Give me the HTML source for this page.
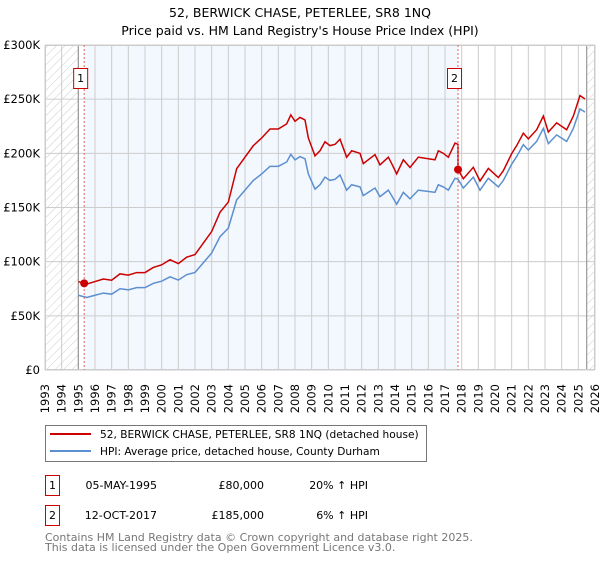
<!DOCTYPE html>
<html><head><meta charset="utf-8"><style>
body{margin:0;background:#fff;font-family:"DejaVu Sans","Liberation Sans",sans-serif;}
svg text{font-family:"DejaVu Sans","Liberation Sans",sans-serif;}
</style></head><body>
<svg id="chart" width="600" height="560" viewBox="0 0 600 560" xmlns="http://www.w3.org/2000/svg">
<defs><pattern id="hatch" patternUnits="userSpaceOnUse" width="6" height="6" patternTransform="rotate(45)"><line x1="0" y1="0" x2="0" y2="6" stroke="#ccc" stroke-width="1"/></pattern></defs>
<text x="300" y="17" text-anchor="middle" font-size="12.5">52, BERWICK CHASE, PETERLEE, SR8 1NQ</text>
<text x="300" y="35" text-anchor="middle" font-size="12.5">Price paid vs. HM Land Registry's House Price Index (HPI)</text>
<g id="plot"></g>
<rect x="45.5" y="425.5" width="381" height="36" fill="#fff" stroke="#777"/>
<line x1="50" y1="434" x2="91" y2="434" stroke="#cc0000" stroke-width="2"/>
<text x="100" y="438" font-size="10.6">52, BERWICK CHASE, PETERLEE, SR8 1NQ (detached house)</text>
<line x1="50" y1="451" x2="91" y2="451" stroke="#5b8fd0" stroke-width="2"/>
<text x="100" y="455" font-size="10.6">HPI: Average price, detached house, County Durham</text>
<g font-size="11">
<rect x="45.5" y="475.5" width="14" height="20" fill="#fff" stroke="#cc0000"/>
<text x="52.5" y="489" text-anchor="middle">1</text>
<text x="157" y="489" text-anchor="end">05-MAY-1995</text>
<text x="264" y="489" text-anchor="end">£80,000</text>
<text x="368" y="489" text-anchor="end">20% ↑ HPI</text>
</g>
<g font-size="11">
<rect x="45.5" y="505.5" width="14" height="20" fill="#fff" stroke="#cc0000"/>
<text x="52.5" y="519" text-anchor="middle">2</text>
<text x="157" y="519" text-anchor="end">12-OCT-2017</text>
<text x="264" y="519" text-anchor="end">£185,000</text>
<text x="368" y="519" text-anchor="end">6% ↑ HPI</text>
</g>
<text x="45" y="541" font-size="11" fill="#777">Contains HM Land Registry data © Crown copyright and database right 2025.</text>
<text x="45" y="551" font-size="11" fill="#777">This data is licensed under the Open Government Licence v3.0.</text>
</svg>
<script>
const hpiYears=[1995.0,1995.5,1996.0,1996.5,1997.0,1997.5,1998.0,1998.5,1999.0,1999.5,2000.0,2000.5,2001.0,2001.5,2002.0,2002.5,2003.0,2003.5,2004.0,2004.5,2005.0,2005.5,2006.0,2006.5,2007.0,2007.5,2007.75,2008.0,2008.3,2008.6,2008.8,2009.2,2009.5,2009.8,2010.1,2010.4,2010.7,2011.1,2011.4,2011.9,2012.1,2012.5,2012.8,2013.1,2013.6,2013.8,2014.1,2014.5,2014.9,2015.4,2015.9,2016.4,2016.6,2016.9,2017.2,2017.6,2017.78,2018.1,2018.7,2019.1,2019.6,2020.2,2020.5,2021.0,2021.3,2021.7,2022.0,2022.5,2022.9,2023.2,2023.7,2024.3,2024.7,2025.1,2025.4];
const hpiValues=[69,67,69,71,70,75,74,76,76,80,82,86,83,88,90,99,108,123,131,157,166,175,181,188,188,192,199,194,197,195,181,167,171,178,175,176,180,166,171,169,161,165,168,160,166,161,153,164,158,166,165,164,171,169,166,177,176,168,178,166,177,169,175,190,197,208,203,211,223,209,217,211,223,241,238];
const saleYears=[1995.35,2017.78];
const salePrices=[80,185];
const yTicks=[0,50,100,150,200,250,300];
const yTickLabels=["£0","£50K","£100K","£150K","£200K","£250K","£300K"];
const xTicks=[1993,1994,1995,1996,1997,1998,1999,2000,2001,2002,2003,2004,2005,2006,2007,2008,2009,2010,2011,2012,2013,2014,2015,2016,2017,2018,2019,2020,2021,2022,2023,2024,2025,2026];
const X0=45,X1=595,Y0=370,Y1=45;
const xs=y=>X0+(y-1993)/(2026-1993)*(X1-X0);
const ys=v=>Y0-v/300*(Y0-Y1);
const NS="http://www.w3.org/2000/svg";
const g=document.getElementById('plot');
function mk(t,a){const e=document.createElementNS(NS,t);for(const k in a)e.setAttribute(k,a[k]);g.appendChild(e);return e;}
function hpiAt(t){for(let i=1;i<hpiYears.length;i++){if(t<=hpiYears[i]){const f=(t-hpiYears[i-1])/(hpiYears[i]-hpiYears[i-1]);return hpiValues[i-1]+f*(hpiValues[i]-hpiValues[i-1]);}}return hpiValues[hpiValues.length-1];}
let e;
e=mk('rect',{x:xs(saleYears[0]),y:Y1,width:xs(saleYears[1])-xs(saleYears[0]),height:Y0-Y1,fill:'#f3f7fe'});

e=mk('rect',{x:X0,y:Y1,width:xs(1995)-X0,height:Y0-Y1,fill:'url(#hatch)'});

e=mk('rect',{x:xs(2025.5),y:Y1,width:X1-xs(2025.5),height:Y0-Y1,fill:'url(#hatch)'});

xTicks.forEach(t=>{
 e=mk('line',{x1:xs(t),x2:xs(t),y1:Y1,y2:Y0,stroke:'#ccc','stroke-width':1});
 
 e=mk('text',{x:0,y:0,transform:`translate(${xs(t)+4},384) rotate(-90)`,'text-anchor':'end','font-size':11.5});
 e.textContent=t;
 
});
yTicks.forEach((v,i)=>{
 e=mk('line',{x1:X0,x2:X1,y1:ys(v),y2:ys(v),stroke:'#ccc','stroke-width':1});
 
 e=mk('text',{x:40,y:ys(v)+4,'text-anchor':'end','font-size':11.5});
 e.textContent=yTickLabels[i];
 
});
e=mk('line',{x1:xs(1995),x2:xs(1995),y1:Y1,y2:Y0,stroke:'#999','stroke-width':1.2});

e=mk('line',{x1:xs(2025.5),x2:xs(2025.5),y1:Y1,y2:Y0,stroke:'#999','stroke-width':1.2});

e=mk('polyline',{points:hpiYears.map((t,i)=>xs(t)+','+ys(hpiValues[i])).join(' '),fill:'none',stroke:'#5b8fd0','stroke-width':1.5});

const pts=hpiYears.map((t,i)=>{const k=t>=saleYears[1]?1:0;const v=hpiValues[i]*salePrices[k]/hpiAt(saleYears[k]);return xs(t)+','+ys(v);});
const ip=hpiYears.findIndex(t=>t>=saleYears[1]);
pts.splice(ip,0,xs(saleYears[1])+','+ys(hpiAt(saleYears[1])*salePrices[0]/hpiAt(saleYears[0])),xs(saleYears[1])+','+ys(salePrices[1]));
e=mk('polyline',{points:pts.join(' '),fill:'none',stroke:'#cc0000','stroke-width':1.5});

e=mk('rect',{x:X0+0.5,y:Y1+0.5,width:X1-X0-1,height:Y0-Y1-1,fill:'none',stroke:'#ccc'});

saleYears.forEach((t,i)=>{
 e=mk('line',{x1:xs(t),x2:xs(t),y1:Y1,y2:Y0,stroke:'#e06666','stroke-width':1,'stroke-dasharray':'2,2'});
 
 e=mk('circle',{cx:xs(t),cy:ys(salePrices[i]),r:4,fill:'#cc0000'});
 
 e=mk('rect',{x:xs(t)-10.5,y:68.5,width:14,height:20,fill:'#fff',stroke:'#cc0000'});
 
 e=mk('text',{x:xs(t)-3.5,y:82,'text-anchor':'middle','font-size':11});
 e.textContent=String(i+1);
 
});
</script>
</body></html>
